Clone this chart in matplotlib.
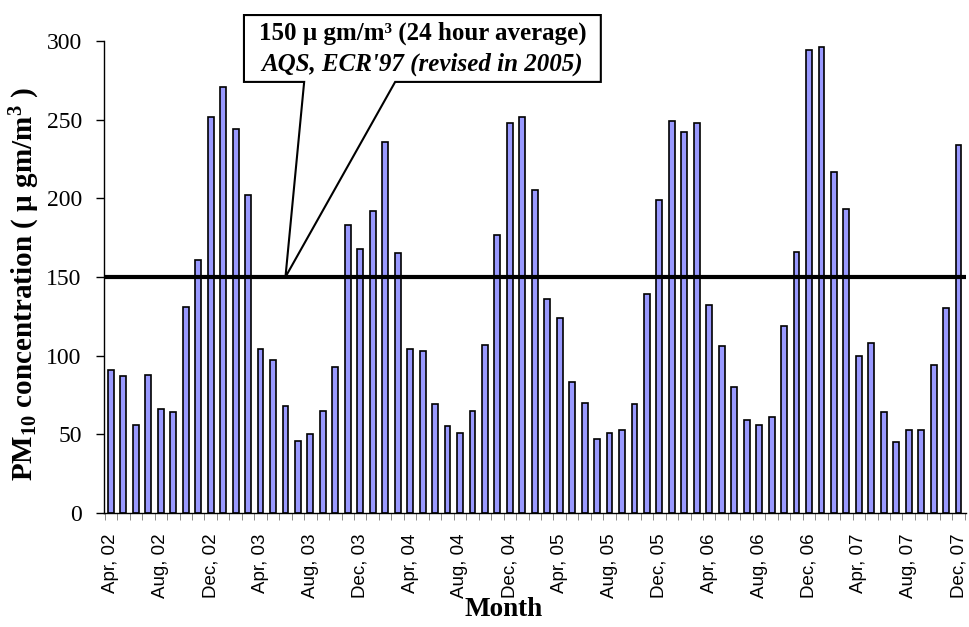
import matplotlib
matplotlib.use("Agg")
import matplotlib.pyplot as plt
from matplotlib.patches import Polygon
import numpy as np

plt.rcParams["mathtext.fontset"] = "custom"
plt.rcParams["mathtext.rm"] = "Liberation Serif:bold"
plt.rcParams["mathtext.it"] = "Liberation Serif:bold"
plt.rcParams["mathtext.bf"] = "Liberation Serif:bold"

# Monthly PM10 averages, Apr 2002 - Dec 2007
start_year = 2002
pm10 = [91, 87, 56, 88, 66, 64, 131, 161, 252,
        271, 244, 202, 104, 97, 68, 46, 50, 65, 93, 183, 168,
        192, 236, 165, 104, 103, 69, 55, 51, 65, 107, 177, 248,
        252, 205, 136, 124, 83, 70, 47, 51, 53, 69, 139, 199,
        249, 242, 248, 132, 106, 80, 59, 56, 61, 119, 166, 294,
        296, 217, 193, 100, 108, 64, 45, 53, 53, 94, 130, 234]
standard = 150
label_every = 4

# build "Mon, yy" labels for each month
month_names = ["Jan", "Feb", "Mar", "Apr", "May", "Jun", "Jul", "Aug",
               "Sep", "Oct", "Nov", "Dec"]
labels = []
for i in range(len(pm10)):
    m = (3 + i) % 12
    y = start_year + (3 + i) // 12
    labels.append(f"{month_names[m]}, {y % 100:02d}")

fig = plt.figure(figsize=(9.7, 6.27), dpi=100)
ax = fig.add_axes([0.1072, 0.1818, 0.8887, 0.7528])

x = np.arange(len(pm10))
ax.bar(x, pm10, width=0.47, color="#9999ff", edgecolor="black",
       linewidth=1.2, zorder=2)
ax.axhline(standard, color="black", linewidth=3.0, zorder=3)

ax.set_xlim(-0.56, len(pm10) - 0.4)
ax.set_ylim(0, 300)
ax.set_yticks(np.arange(0, 301, 50))

ax.set_xticks(x[::label_every])
ax.set_xticklabels(labels[::label_every], rotation=90,
                   fontfamily="Liberation Sans", fontsize=13.5)
ax.set_xticks(np.arange(-0.5, len(pm10), 1), minor=True)
ax.tick_params(axis="x", which="major", length=0, pad=15)
ax.tick_params(axis="x", which="minor", length=5, color="#777777",
               direction="out")
ax.tick_params(axis="y", which="major", length=6, width=1, direction="out",
               labelsize=17, pad=10)
for t in ax.get_yticklabels():
    t.set_fontfamily("Liberation Serif")

for s in ["top", "right"]:
    ax.spines[s].set_visible(False)
ax.spines["left"].set_linewidth(1.0)
ax.spines["bottom"].set_linewidth(1.0)

ax.set_xlabel("Month", fontfamily="Liberation Serif", fontweight="bold",
              fontsize=19.5)
ax.xaxis.set_label_coords(0.464, -0.177)
ax.set_ylabel("PM$_{10}$ concentration ( µ gm/m$^{3}$ )",
              fontfamily="Liberation Serif", fontweight="bold", fontsize=21)
ax.yaxis.set_label_coords(-0.072, 0.485)

# callout box pointing at the standard line
box_l, box_r, box_b, box_t = 10.67, 39.3, 274, 316.5
tip = (14.0, standard)
wedge_l, wedge_r = 15.5, 22.8
callout = Polygon([(box_l, box_t), (box_r, box_t), (box_r, box_b),
                   (wedge_r, box_b), tip, (wedge_l, box_b), (box_l, box_b)],
                  closed=True, facecolor="white", edgecolor="black",
                  linewidth=1.5, clip_on=False, zorder=5)
ax.add_patch(callout)
cx = (box_l + box_r) / 2
ax.text(cx, 305, "150 µ gm/m³ (24 hour average)", ha="center", va="center",
        fontfamily="Liberation Serif", fontweight="bold", fontsize=18,
        zorder=6, clip_on=False)
ax.text(cx, 285.5, "AQS, ECR'97 (revised in 2005)", ha="center", va="center",
        fontfamily="Liberation Serif", fontweight="bold", fontstyle="italic",
        fontsize=18, zorder=6, clip_on=False)

fig.savefig("out.png", dpi=100)
